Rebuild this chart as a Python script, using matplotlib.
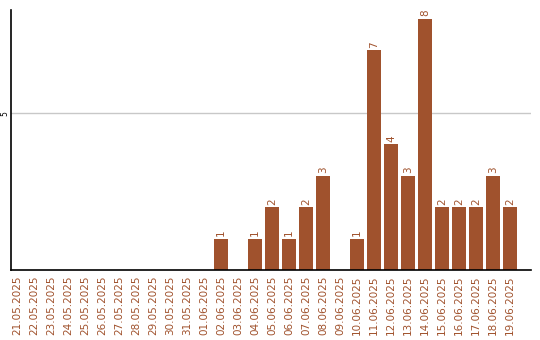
import pandas as pd
import matplotlib
matplotlib.use("Agg")
import matplotlib.pyplot as plt

# data
dates = pd.date_range("2025-05-21", "2025-06-19", freq="D").strftime("%d.%m.%Y").tolist()
counts = [0, 0, 0, 0, 0, 0, 0, 0, 0, 0, 0, 0,
          1, 0, 1, 2, 1, 2, 3, 0, 1, 7, 4, 3, 8, 2, 2, 2, 3, 2]
bar_color = "#a0522d"

fig = plt.figure(figsize=(5.4, 3.4), dpi=100)
ax = fig.add_axes([0.0204, 0.206, 0.963, 0.764])

x = range(len(dates))
bars = ax.bar(x, counts, width=0.82, color=bar_color, zorder=2)
for xi, c in zip(x, counts):
    if c > 0:
        ax.text(xi, c + 0.08, str(c), rotation=90, ha="center", va="bottom",
                color=bar_color, fontsize=7.5)

ax.set_xlim(-0.35, 30.24)
ax.set_ylim(0, 8.28)
ax.set_xticks(list(x))
ax.set_xticklabels(dates, rotation=90, color=bar_color, fontsize=7.5)
ax.tick_params(axis="x", length=0, pad=4)
ax.set_yticks([5])
ax.set_yticklabels(["5"], rotation=90, va="center", fontsize=5.5)
ax.tick_params(axis="y", length=0, pad=1.5)
ax.grid(axis="y", color="#c8c8c8", linewidth=1, zorder=0)
ax.spines["top"].set_visible(False)
ax.spines["right"].set_visible(False)
ax.spines["left"].set_linewidth(1.2)
ax.spines["bottom"].set_linewidth(1.2)

plt.savefig("out.png", dpi=100)
